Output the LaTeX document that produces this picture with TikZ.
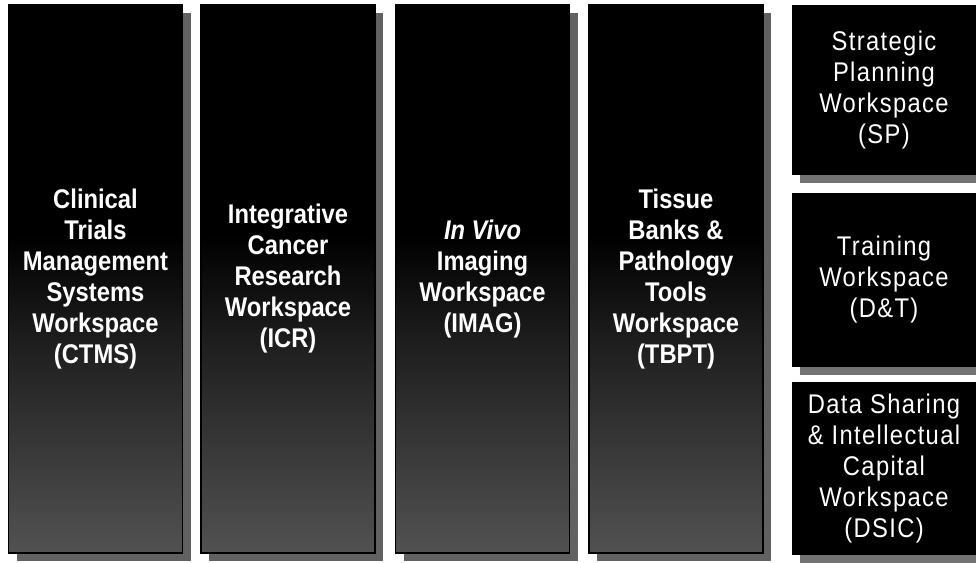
\documentclass[tikz,border=0pt]{standalone}
\usepackage{fontspec}
\newfontfamily\colfont[FakeStretch=0.88]{Liberation Sans}
\newfontfamily\sidefont[FakeStretch=0.88,LetterSpace=5]{Liberation Sans}
\usetikzlibrary{shadows}
\pgfdeclareverticalshading{colfade}{100bp}{color(0bp)=(black!68);
  color(25bp)=(black!68); color(44bp)=(black!88); color(54bp)=(black);
  color(100bp)=(black)}

\begin{document}
\begin{tikzpicture}[
    x=1pt, y=-1pt,
    column/.style={shading=colfade, draw=black, line width=1.2pt,
                   minimum width=174pt, minimum height=548pt, inner sep=0pt,
                   align=center, text=white,
                   font=\colfont\bfseries\fontsize{27}{31}\selectfont,
                   drop shadow={shadow xshift=8pt, shadow yshift=-8pt,
                                fill=black!62, opacity=1}},
    side/.style={fill=black, minimum width=184pt, inner sep=0pt,
                 align=center, text=white,
                 font=\sidefont\fontsize{27}{31}\selectfont,
                 drop shadow={shadow xshift=8pt, shadow yshift=-8pt,
                              fill=black!55, opacity=1}},
]
    \useasboundingbox (0,0) rectangle (976,562);

    \node[column] (ctms) at (95.5,279) {Clinical\\Trials\\Management\\Systems\\Workspace\\(CTMS)};
    \node[column] (icr) at (288,279) {Integrative\\Cancer\\Research\\Workspace\\(ICR)};
    \node[column] (imag) at (482.5,279) {\textit{In Vivo}\\Imaging\\Workspace\\(IMAG)};
    \node[column] (tbpt) at (676,279) {Tissue\\Banks \&\\Pathology\\Tools\\Workspace\\(TBPT)};

    \node[side, minimum height=170pt] (sp) at (884,90) {Strategic\\Planning\\Workspace\\(SP)};
    \node[side, minimum height=174pt] (dt) at (884,280) {Training\\Workspace\\(D\&T)};
    \node[side, minimum height=173pt] (dsic) at (884,468.5) {Data Sharing\\\& Intellectual\\Capital\\Workspace\\(DSIC)};

\end{tikzpicture}
\end{document}
